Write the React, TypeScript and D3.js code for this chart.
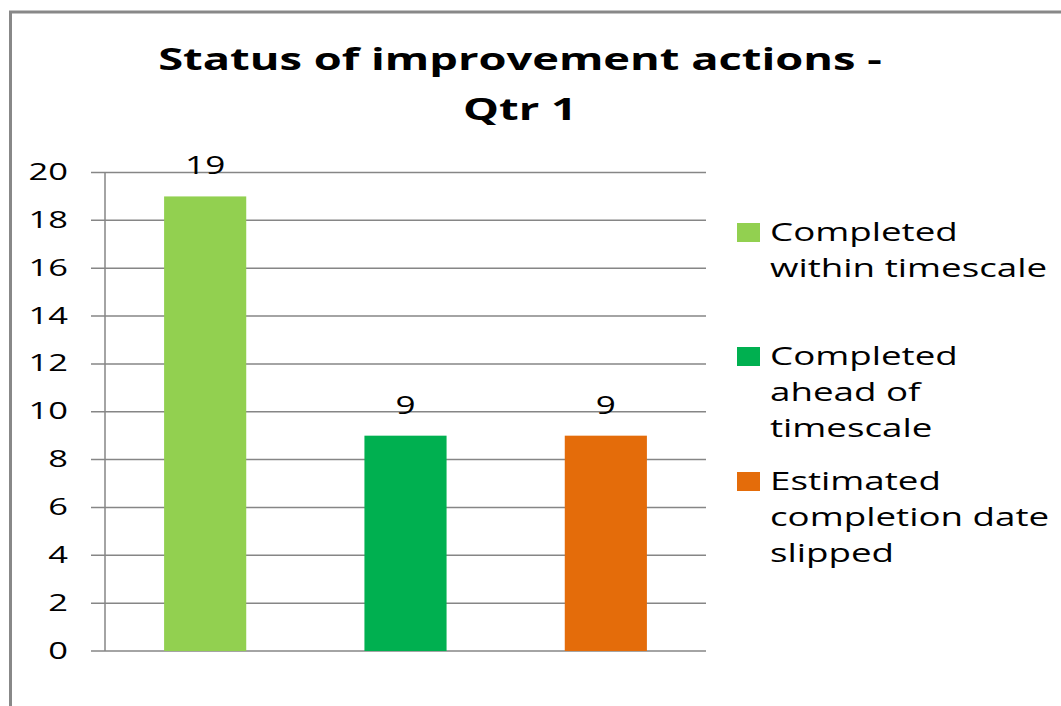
import { scaleBand, scaleLinear, range } from 'd3'

const categories = ['Completed within timescale', 'Completed ahead of timescale', 'Estimated completion date slipped']
const values = [19, 9, 9]
const colors = ['#92D050', '#00B050', '#E46C0A']
const legendLines = [['Completed', 'within timescale'], ['Completed', 'ahead of', 'timescale'], ['Estimated', 'completion date', 'slipped']]
const yTicks = range(0, 21, 2)
const titleLines = ['Status of improvement actions -', 'Qtr 1']

const width = 1061
const height = 706
const plot = { left: 105, right: 706, top: 172.5, bottom: 651 }
const font = '"Open Sans", sans-serif'

export default function App() {
  const x = scaleBand<string>()
    .domain(categories)
    .range([plot.left, plot.right])
    .paddingInner(0.59)
    .paddingOuter(0.295)
  const y = scaleLinear().domain([0, 20]).range([plot.bottom, plot.top])

  return (
    <div style={{ position: 'absolute', left: 0, top: 0 }}>
      <svg width={width} height={height} style={{ display: 'block', background: '#fff' }}>
        <rect x={10.5} y={12} width={width + 20} height={height + 20} fill="none" stroke="#888" strokeWidth={3} />

        {titleLines.map((t, i) => (
          <text key={t} transform={`translate(520,${70 + i * 50}) scale(1.46,1)`} textAnchor="middle"
            fontFamily={font} fontWeight={700} fontSize={31} fill="#000">{t}</text>
        ))}

        {yTicks.map(v => (
          <g key={v}>
            <line x1={91} x2={plot.right} y1={y(v)} y2={y(v)} stroke="#868686" strokeWidth={1.5} />
            <text transform={`translate(68,${y(v) + 7.5}) scale(1.5,1)`} textAnchor="end"
              fontFamily={font} fontSize={23} fill="#000">{v}</text>
          </g>
        ))}
        <line x1={plot.left} x2={plot.left} y1={plot.top} y2={plot.bottom} stroke="#868686" strokeWidth={1.5} />

        {categories.map((c, i) => {
          const bx = x(c) as number
          return (
            <g key={c}>
              <rect x={bx} y={y(values[i])} width={x.bandwidth()} height={y(0) - y(values[i])} fill={colors[i]} />
              <text transform={`translate(${bx + x.bandwidth() / 2},${y(values[i]) - 22}) scale(1.35,1)`}
                textAnchor="middle" fontFamily={font} fontSize={26} fill="#000">{values[i]}</text>
            </g>
          )
        })}

        {legendLines.map((lines, i) => {
          const top = [223, 347, 472][i]
          return (
            <g key={i}>
              <rect x={737} y={top} width={23} height={19} fill={colors[i]} />
              {lines.map((l, j) => (
                <text key={l} transform={`translate(770,${top + 18 + j * 36}) scale(1.47,1)`}
                  fontFamily={font} fontSize={25} fill="#000">{l}</text>
              ))}
            </g>
          )
        })}
      </svg>
    </div>
  )
}
